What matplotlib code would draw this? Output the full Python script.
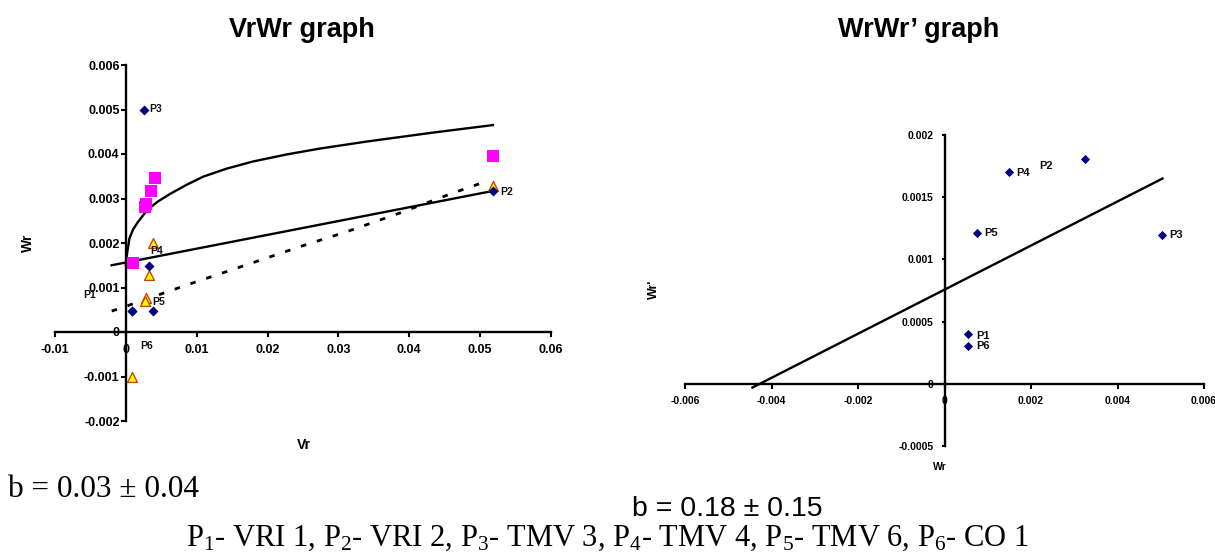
import matplotlib
matplotlib.use("Agg")
import matplotlib.pyplot as plt

plt.rcParams['font.family'] = ['Liberation Sans', 'DejaVu Sans']
plt.rcParams['mathtext.fontset'] = 'custom'
plt.rcParams['mathtext.rm'] = 'Liberation Serif'
plt.rcParams['mathtext.it'] = 'Liberation Serif:italic'

# ---------------- data: VrWr graph ----------------
vr_labels = ['P1', 'P2', 'P3', 'P4', 'P5', 'P6']
vr_diamond_x = [0.0009, 0.0518, 0.0025, 0.0032, 0.0039, 0.0009]
vr_diamond_y = [0.00047, 0.00317, 0.0050, 0.00148, 0.00047, 0.00047]

tri_x = [0.0038, 0.0032, 0.0028, 0.0027, 0.0009, 0.0518]
tri_y = [0.0020, 0.00128, 0.00077, 0.00070, -0.0010, 0.00328]

sq_x = [0.0041, 0.0035, 0.0028, 0.0027, 0.0010, 0.0518]
sq_y = [0.00346, 0.00317, 0.00288, 0.00280, 0.00155, 0.00396]

curve_vr = [0.0, 0.0002, 0.0005, 0.001, 0.0017, 0.003, 0.0045, 0.0062, 0.0086,
            0.0109, 0.0142, 0.0179, 0.0227, 0.0273, 0.034, 0.0433, 0.0518]
curve_wr = [0.0015, 0.0018, 0.0021, 0.0023, 0.00247, 0.00274, 0.00293, 0.00310, 0.00331,
            0.00349, 0.00367, 0.00383, 0.00399, 0.00412, 0.00428, 0.00448, 0.00465]

reg_vr = [-0.002, 0.0518]
reg_wr = [0.0015, 0.00317]

dash_vr = [-0.002, 0.0017, 0.0038, 0.0094, 0.0137, 0.025, 0.0311, 0.0386, 0.0461, 0.0506]
dash_wr = [0.00047, 0.00067, 0.00079, 0.0011, 0.00133, 0.00194, 0.00225, 0.00267, 0.00312, 0.00337]

vr_xticks = [-0.01, 0, 0.01, 0.02, 0.03, 0.04, 0.05, 0.06]
vr_xticklabels = ['-0.01', '0', '0.01', '0.02', '0.03', '0.04', '0.05', '0.06']
vr_yticks = [-0.002, -0.001, 0, 0.001, 0.002, 0.003, 0.004, 0.005, 0.006]
vr_yticklabels = ['-0.002', '-0.001', '0', '0.001', '0.002', '0.003', '0.004', '0.005', '0.006']

# ---------------- data: WrWr' graph ----------------
ww_labels = ['P1', 'P2', 'P3', 'P4', 'P5', 'P6']
ww_wr = [0.00055, 0.00324, 0.00504, 0.0015, 0.00076, 0.00055]
ww_wrp = [0.0004, 0.00181, 0.0012, 0.0017, 0.00121, 0.0003]

ww_reg_x = [-0.00444, 0.00504]
ww_reg_y = [-0.00003, 0.00165]

ww_xticks = [-0.006, -0.004, -0.002, 0, 0.002, 0.004, 0.006]
ww_xticklabels = ['-0.006', '-0.004', '-0.002', '0', '0.002', '0.004', '0.006']
ww_yticks = [-0.0005, 0, 0.0005, 0.001, 0.0015, 0.002]
ww_yticklabels = ['-0.0005', '0', '0.0005', '0.001', '0.0015', '0.002']

W, H = 1215, 554
fig = plt.figure(figsize=(W / 100, H / 100), dpi=100)


def px(x, y):
    return x / W, 1 - y / H


def style_axes(ax, lw):
    ax.spines['left'].set_position(('data', 0))
    ax.spines['bottom'].set_position(('data', 0))
    ax.spines['top'].set_visible(False)
    ax.spines['right'].set_visible(False)
    for s in ('left', 'bottom'):
        ax.spines[s].set_linewidth(lw)
    ax.patch.set_alpha(0)


# ---------------- left chart ----------------
ax1 = fig.add_axes([55 / W, (H - 421) / H, 496 / W, 356 / H])
style_axes(ax1, 1.7)
ax1.set_xlim(-0.01, 0.06)
ax1.set_ylim(-0.002, 0.006)
ax1.set_xticks(vr_xticks, vr_xticklabels, fontsize=9, fontweight='bold')
ax1.set_yticks(vr_yticks, vr_yticklabels, fontsize=9, fontweight='bold')
ax1.tick_params(axis='x', direction='out', length=3.5, width=1.5, pad=5)
ax1.tick_params(axis='y', direction='out', length=3.5, width=1.5, pad=1)

ax1.plot(curve_vr, curve_wr, color='black', lw=1.7, zorder=3)
ax1.plot(reg_vr, reg_wr, color='black', lw=1.7, zorder=3)
ax1.plot(dash_vr, dash_wr, color='black', lw=2, linestyle=(0, (2, 4)), zorder=3)
ax1.scatter(sq_x, sq_y, marker='s', s=64, color='#FF00FF', zorder=4, linewidths=0)
ax1.scatter(tri_x, tri_y, marker='^', s=50, facecolor='#FFFF00', edgecolor='#CC4400',
            linewidths=1.0, zorder=5)
ax1.scatter(vr_diamond_x, vr_diamond_y, marker='D', s=26, color='#000080', zorder=6,
            linewidths=0)

vr_label_offsets = {'P1': (-36, 16, 'right'), 'P2': (7, -1, 'left'), 'P3': (6, 0, 'left'),
                    'P4': (2, 15, 'left'), 'P5': (-1, 9, 'left'), 'P6': (8, -35, 'left')}
for name, x, y in zip(vr_labels, vr_diamond_x, vr_diamond_y):
    dx, dy, ha = vr_label_offsets[name]
    ax1.annotate(name, (x, y), xytext=(dx * 0.72, dy * 0.72), textcoords='offset points',
                 ha=ha, va='center', fontsize=7.5, fontweight='bold', color='#111111', zorder=7)

fig.text(*px(28, 243), 'Wr', rotation=90, ha='center', va='center', fontsize=10, fontweight='bold')
fig.text(*px(304, 445), 'Vr', ha='center', va='center', fontsize=10, fontweight='bold')
fig.text(*px(302, 37), 'VrWr graph', ha='center', va='baseline', fontsize=19.5, fontweight='bold')

# ---------------- right chart ----------------
ax2 = fig.add_axes([685 / W, (H - 446) / H, 519 / W, 311 / H])
style_axes(ax2, 1.7)
ax2.set_xlim(-0.006, 0.006)
ax2.set_ylim(-0.0005, 0.002)
ax2.set_xticks(ww_xticks, ww_xticklabels, fontsize=7.5, fontweight='bold')
ax2.set_yticks(ww_yticks, ww_yticklabels, fontsize=7.5, fontweight='bold')
ax2.tick_params(axis='x', direction='out', length=3.5, width=1.5, pad=5)
ax2.tick_params(axis='y', direction='out', length=2, width=1.5, pad=6)

ax2.plot(ww_reg_x, ww_reg_y, color='black', lw=1.7, zorder=3)
ax2.scatter(ww_wr, ww_wrp, marker='D', s=22, color='#000080', zorder=5, linewidths=0)

ww_label_offsets = {'P1': (8, -2), 'P2': (-45, -7), 'P3': (7, 0), 'P4': (7, -1),
                    'P5': (7, 0), 'P6': (8, 0)}
for name, x, y in zip(ww_labels, ww_wr, ww_wrp):
    dx, dy = ww_label_offsets[name]
    ax2.annotate(name, (x, y), xytext=(dx * 0.72, dy * 0.72), textcoords='offset points',
                 ha='left', va='center', fontsize=8, fontweight='bold', color='#111111')

fig.text(*px(654, 289), "Wr'", rotation=90, ha='center', va='center', fontsize=9, fontweight='bold')
fig.text(*px(940, 467), 'Wr', ha='center', va='center', fontsize=7.5, fontweight='bold')
fig.text(*px(919, 37), 'WrWr\u2019 graph', ha='center', va='baseline', fontsize=19.5, fontweight='bold')

# ---------------- bottom texts ----------------
fig.text(*px(8, 497), 'b = 0.03 \u00b1 0.04', ha='left', va='baseline', fontsize=22.5,
         family='Liberation Serif')
fig.text(*px(727, 516), 'b = 0.18 \u00b1 0.15', ha='center', va='baseline', fontsize=20.5,
         family='Liberation Sans')
legend_text = (r'P$_{\mathrm{1}}$- VRI 1, P$_{\mathrm{2}}$- VRI 2, P$_{\mathrm{3}}$- TMV 3, '
               r'P$_{\mathrm{4}}$- TMV 4, P$_{\mathrm{5}}$- TMV 6, P$_{\mathrm{6}}$- CO 1')
fig.text(*px(607, 546), legend_text, ha='center', va='baseline', fontsize=22,
         family='Liberation Serif')

fig.savefig('out.png', dpi=100)
